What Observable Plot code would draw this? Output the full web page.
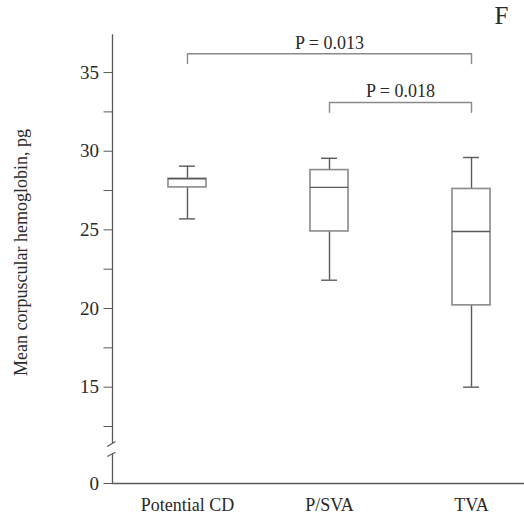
<!DOCTYPE html>
<html>
<head>
<meta charset="utf-8">
<script src="https://cdn.jsdelivr.net/npm/d3@7"></script>
<script src="https://cdn.jsdelivr.net/npm/@observablehq/plot@0.6"></script>
<style>
  html, body { margin: 0; padding: 0; background: #fff; }
</style>
</head>
<body>
<div id="chart"></div>
<script>
// ---- data ----
const groups = ["Potential CD", "P/SVA", "TVA"];
const whiskerLow  = [25.7, 21.8, 15.0];
const q1          = [27.7, 24.9, 20.2];
const medians     = [28.25, 27.7, 24.9];
const q3          = [28.25, 28.8, 27.6];
const whiskerHigh = [29.05, 29.55, 29.6];

const compFrom   = ["Potential CD", "P/SVA"];
const compTo     = ["TVA", "TVA"];
const compLevel  = [36.2, 33.1];
const compLabels = ["P = 0.013", "P = 0.018"];

const majorTicks = [0, 15, 20, 25, 30, 35];
const minorTicks = [12.5, 17.5, 22.5, 27.5, 32.5];
const axisSegments = [[37.4, 11.4], [9.6, 0]];
const breakMarks = [[11.23, 11.55], [8.9, 10.3]];
const yLabel = "Mean corpuscular hemoglobin, pg";
const panelLetter = "F";

// ---- layout constants ----
const xDomain = [-0.528, 2.373];
const boxHalf = 0.134;
const capHalf = 0.056;
const bracketDrop = 0.62;

const idx = name => groups.indexOf(name);
const rows = groups.map((g, i) => ({
  i, g, lo: whiskerLow[i], q1: q1[i], med: medians[i], q3: q3[i], hi: whiskerHigh[i]
}));
const brackets = [];
compFrom.forEach((f, k) => {
  const a = idx(f), b = idx(compTo[k]), y = compLevel[k];
  brackets.push({k, x: a, y: y - bracketDrop});
  brackets.push({k, x: a, y});
  brackets.push({k, x: b, y});
  brackets.push({k, x: b, y: y - bracketDrop});
});
const bracketLabels = compFrom.map((f, k) => ({
  x: (idx(f) + idx(compTo[k])) / 2, y: compLevel[k], label: compLabels[k]
}));

const font = "'Liberation Serif', 'Times New Roman', serif";
const textColor = "#2a2a2a";
const boxColor = "#8a8a8a";
const lineColor = "#5a5a5a";

const chart = Plot.plot({
  width: 524,
  height: 520,
  marginLeft: 112,
  marginRight: 0,
  marginTop: 35,
  marginBottom: 37,
  style: {fontFamily: font, fontSize: "18px", color: textColor, background: "#fff"},
  x: {type: "linear", domain: xDomain, range: [112, 524]},
  y: {type: "linear", domain: [0, 11, 37.4], range: [483, 449.6, 34.3]},
  marks: [
    // axes
    Plot.axisY(majorTicks, {tickSize: 8.5, tickPadding: 5, stroke: lineColor, fill: textColor, label: null, tickFormat: d => String(d), fontSize: 19}),
    Plot.axisY(minorTicks, {tickSize: 8.5, stroke: lineColor, label: null, tickFormat: () => ""}),
    Plot.axisX([0, 1, 2], {tickSize: 0, tickPadding: 15, fill: textColor, label: null, tickFormat: d => groups[d]}),
    Plot.ruleX(axisSegments, {x: () => xDomain[0], y1: d => d[0], y2: d => d[1], stroke: lineColor, strokeWidth: 1.3}),
    Plot.link(breakMarks, {x1: () => xDomain[0] - 0.037, x2: () => xDomain[0] + 0.021, y1: d => d[0], y2: d => d[1], stroke: lineColor, strokeWidth: 1.2}),
    Plot.ruleY([0], {stroke: lineColor, strokeWidth: 1.3}),
    // whiskers
    Plot.ruleX(rows, {x: "i", y1: "lo", y2: "q1", stroke: lineColor, strokeWidth: 1.4}),
    Plot.ruleX(rows, {x: "i", y1: "q3", y2: "hi", stroke: lineColor, strokeWidth: 1.4}),
    Plot.ruleY(rows, {y: "lo", x1: d => d.i - capHalf, x2: d => d.i + capHalf, stroke: lineColor, strokeWidth: 1.4}),
    Plot.ruleY(rows, {y: "hi", x1: d => d.i - capHalf, x2: d => d.i + capHalf, stroke: lineColor, strokeWidth: 1.4}),
    // boxes
    Plot.rect(rows, {x1: d => d.i - boxHalf, x2: d => d.i + boxHalf, y1: "q1", y2: "q3", fill: "#fff", stroke: boxColor, strokeWidth: 1.6}),
    Plot.ruleY(rows, {y: "med", x1: d => d.i - boxHalf, x2: d => d.i + boxHalf, stroke: lineColor, strokeWidth: 1.4}),
    // significance brackets
    Plot.line(brackets, {x: "x", y: "y", z: "k", stroke: "#8a8a8a", strokeWidth: 1.4}),
    Plot.text(bracketLabels, {x: "x", y: "y", text: "label", lineAnchor: "bottom", dy: -5, fill: textColor, fontSize: 18}),
    // y label
    Plot.text([yLabel], {frameAnchor: "left", textAnchor: "middle", lineAnchor: "middle", rotate: -90, dx: -91, dy: -7, fill: textColor, fontSize: 18}),
    // panel letter
    Plot.text([panelLetter], {frameAnchor: "top-right", textAnchor: "end", lineAnchor: "bottom", dx: -16, dy: -12, fill: textColor, fontSize: 25})
  ]
});
document.getElementById("chart").appendChild(chart);
</script>
</body>
</html>
